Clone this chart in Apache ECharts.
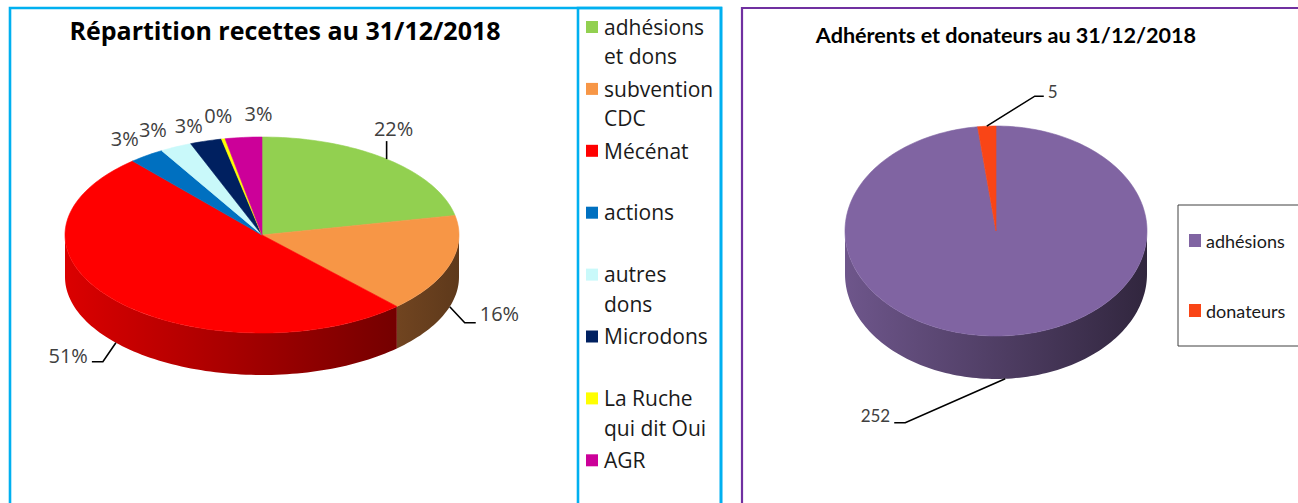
<!DOCTYPE html>
<html><head><meta charset="utf-8">
<script src="https://cdn.jsdelivr.net/npm/echarts@6/dist/echarts.min.js"></script>
<style>html,body{margin:0;padding:0;background:#fff}#c{width:1298px;height:503px}</style>
</head><body><div id="c"></div>
<script>
// ---- data ----
const recettesTitle = 'Répartition recettes au 31/12/2018';
const recettesCategories = ['adhésions et dons','subvention CDC','Mécénat','actions','autres dons','Microdons','La Ruche qui dit Oui','AGR'];
const recettesLegendLabels = ['adhésions\net dons','subvention\nCDC','Mécénat','actions','autres\ndons','Microdons','La Ruche\nqui dit Oui','AGR'];
const recettesValues = [21.8, 16.2, 50.6, 2.9, 2.6, 2.6, 0.3, 3.0];
const recettesColors = ['#92D050','#F79646','#FF0000','#0070C0','#C9F9FA','#002060','#FFFF00','#CC0099'];

const membresTitle = 'Adhérents et donateurs au 31/12/2018';
const membresCategories = ['adhésions','donateurs'];
const membresValues = [252, 5];
const membresColors = ['#8064A2','#F94516'];

// ---- layout (label leader offsets relative to slice anchor) ----
const recettesLabelLayout = [
  {line:[[0,0],[0,-18]], text:[7,-31], align:'center'},
  {line:[[0,0],[15,16],[26,16]], text:[30,7], align:'left'},
  {line:[[0,0],[-13,19],[-24,19]], text:[-28,13], align:'right'},
  {text:[-22,-17], align:'center'},
  {text:[-23,-17], align:'center'},
  {text:[-17,-16], align:'center'},
  {text:[-5,-23], align:'center'},
  {text:[15,-24], align:'center'}
];
const membresLabelLayout = [
  {line:[[0,0],[-100,44],[-111,44]], text:[-115,37], align:'right'},
  {line:[[0,0],[48,-30],[57,-30]], text:[61,-35], align:'left'}
];

function shade(hex, f){
  const n=parseInt(hex.slice(1),16);
  const r=Math.round(((n>>16)&255)*f), g=Math.round(((n>>8)&255)*f), b=Math.round((n&255)*f);
  return 'rgb('+r+','+g+','+b+')';
}

function makePie(cfg){
  const total = cfg.values.reduce((a,b)=>a+b,0);
  const cum=[]; let s=0; cfg.values.forEach(v=>{cum.push(s); s+=v;});
  const pt=(deg,dy)=>{const r=deg*Math.PI/180; return [cfg.cx+cfg.rx*Math.sin(r), cfg.cy-cfg.ry*Math.cos(r)+(dy||0)];};
  return {
    type:'custom', coordinateSystem:'none', name:cfg.name,
    data: cfg.values.map((v,i)=>({name:cfg.names[i], value:v})),
    renderItem(params, api){
      const i=params.dataIndex, v=api.value(0), col=cfg.colors[i];
      const a1=cum[i]/total*360, a2=(cum[i]+v)/total*360;
      const children=[];
      const s1=Math.max(a1,90), s2=Math.min(a2,270);
      if(s2>s1){
        const top=[], bot=[]; const n=Math.max(2,Math.ceil((s2-s1)/1.5));
        for(let k=0;k<=n;k++){const a=s1+(s2-s1)*k/n; top.push(pt(a)); bot.push(pt(a,cfg.depth));}
        children.push({type:'polygon', z2:1, shape:{points: top.concat(bot.reverse())},
          style:{fill:{type:'linear', x:cfg.cx-cfg.rx, y:0, x2:cfg.cx+cfg.rx, y2:0, global:true,
            colorStops:[{offset:0,color:shade(col,0.86)},{offset:1,color:shade(col,0.38)}]}, stroke:null}});
      }
      const pts=[[cfg.cx,cfg.cy]]; const n=Math.max(2,Math.ceil((a2-a1)/1.5));
      for(let k=0;k<=n;k++) pts.push(pt(a1+(a2-a1)*k/n));
      children.push({type:'polygon', z2:2, shape:{points:pts}, style:{fill:col, stroke:col, lineWidth:0.6, lineJoin:'round'}});
      // label
      const m=(a1+a2)/2; const front = m>90 && m<270;
      const anc = pt(m, front?cfg.depth:0);
      const L = cfg.labels[i];
      if(L.line){
        children.push({type:'polyline', z2:5, shape:{points:L.line.map(p=>[anc[0]+p[0],anc[1]+p[1]])},
          style:{stroke:'#000', lineWidth:1.6, fill:null}});
      }
      children.push({type:'text', z2:6, x:anc[0]+L.text[0], y:anc[1]+L.text[1],
        style:{text: cfg.labelText(v,total), fill:'#404040', font: cfg.labelFont, align:L.align, verticalAlign:'middle'}});
      return {type:'group', children};
    }
  };
}

const graphics = [
  {type:'rect', shape:{x:10,y:8,width:711,height:520}, style:{fill:null, stroke:'#00B0F0', lineWidth:2.6}, z:0},
  {type:'rect', shape:{x:578,y:8,width:143,height:520}, style:{fill:null, stroke:'#00B0F0', lineWidth:2.6}, z:0},
  {type:'rect', shape:{x:742,y:8,width:600,height:520}, style:{fill:null, stroke:'#7030A0', lineWidth:2.2}, z:0},
  {type:'rect', shape:{x:1178,y:205,width:140,height:141}, style:{fill:'#fff', stroke:'#404040', lineWidth:1}, z:1}
];
recettesLegendLabels.forEach((lab,i)=>{
  const yc = 27 + i*61.9;
  graphics.push({type:'rect', shape:{x:586,y:yc-6,width:12,height:12}, style:{fill:recettesColors[i]}, z:2});
  graphics.push({type:'text', x:604, y:yc-15, style:{text:lab, font:'21px "Open Sans", sans-serif', fill:'#1a1a1a', lineHeight:29.5, verticalAlign:'top'}, z:2});
});
membresCategories.forEach((lab,i)=>{
  const yc = 241 + i*70;
  graphics.push({type:'rect', shape:{x:1189,y:yc-7,width:12,height:13}, style:{fill:membresColors[i]}, z:2});
  graphics.push({type:'text', x:1206, y:yc, style:{text:lab, font:'18px Lato, sans-serif', fill:'#1a1a1a', verticalAlign:'middle'}, z:2});
});

const chart = echarts.init(document.getElementById('c'), null, {renderer:'svg'});
chart.setOption({
  animation:false,
  title:[
    {text:recettesTitle, left:285, top:17, textAlign:'center', padding:0, textStyle:{fontFamily:'Open Sans', fontWeight:'bold', fontSize:25, color:'#000'}},
    {text:membresTitle, left:1006, top:24, textAlign:'center', padding:0, textStyle:{fontFamily:'Lato', fontWeight:'bold', fontSize:21.6, color:'#000'}}
  ],
  graphic: graphics,
  series:[
    makePie({name:'recettes', names:recettesCategories, values:recettesValues, colors:recettesColors,
      cx:262, cy:235, rx:197, ry:98, depth:42, labels:recettesLabelLayout, labelFont:'20px "Open Sans", sans-serif',
      labelText:(v,t)=>Math.round(v/t*100)+'%'}),
    makePie({name:'membres', names:membresCategories, values:membresValues, colors:membresColors,
      cx:996, cy:231, rx:151, ry:105, depth:43, labels:membresLabelLayout, labelFont:'17px Lato, sans-serif',
      labelText:(v,t)=>String(v)})
  ]
});
</script>
</body></html>
